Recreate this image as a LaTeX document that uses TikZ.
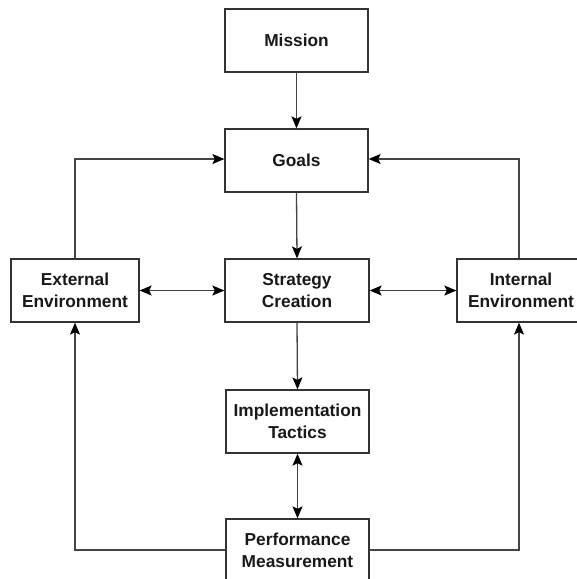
\documentclass[tikz,border=0pt]{standalone}
\usepackage{fontspec}
\setmainfont{Liberation Sans}
\usetikzlibrary{arrows.meta}
\definecolor{ln}{HTML}{333333}
\definecolor{cn}{HTML}{444444}
\begin{document}
\begin{tikzpicture}[x=1pt,y=-1pt,
  box/.style={draw=ln,line width=1.3pt,fill=white,minimum height=63pt,
    align=center,font=\bfseries\fontsize{17.3}{22.5}\selectfont,inner sep=0pt,text=black!90},
  tip/.tip={Stealth[length=12pt,width=10pt,inset=2.5pt,color=black]},
  conn/.style={draw=cn,line width=1.3pt,-tip},
  dconn/.style={draw=cn,line width=1.3pt,tip-tip}]
\useasboundingbox (0,0) rectangle (577,579);
\fill[white] (0,0) rectangle (577,579);
\node[box,minimum width=143pt] (mission) at (296.5,40.5) {Mission};
\node[box,minimum width=143pt] (goals) at (296.5,160.5) {Goals};
\node[box,minimum width=144pt] (strategy) at (297,290.5) {Strategy\\Creation};
\node[box,minimum width=128pt] (external) at (75,290.5) {External\\Environment};
\node[box,minimum width=128pt] (internal) at (521,290.5) {Internal\\Environment};
\node[box,minimum width=143pt] (impl) at (297.5,421.5) {Implementation\\Tactics};
\node[box,minimum width=143pt] (perf) at (297.5,550.5) {Performance\\Measurement};
\coordinate (gl) at (75,159);
\coordinate (gr) at (519,159);
\coordinate (pl) at (75,550);
\coordinate (pr) at (519,550);
\draw[conn] (mission.south) -- (goals.north);
\draw[conn] (goals.south) -- (strategy.north);
\draw[conn] (strategy.south) -- (impl.north);
\draw[dconn] (impl.south) -- (perf.north);
\draw[dconn] (external.east) -- (strategy.west);
\draw[dconn] (strategy.east) -- (internal.west);
\draw[conn] (external.north) -- (gl) -- (goals.west |- gl);
\draw[conn] (internal.north -| gr) -- (gr) -- (goals.east |- gr);
\draw[conn] (perf.west |- pl) -- (pl) -- (external.south);
\draw[conn] (perf.east |- pr) -- (pr) -- (internal.south -| pr);
\end{tikzpicture}
\end{document}
